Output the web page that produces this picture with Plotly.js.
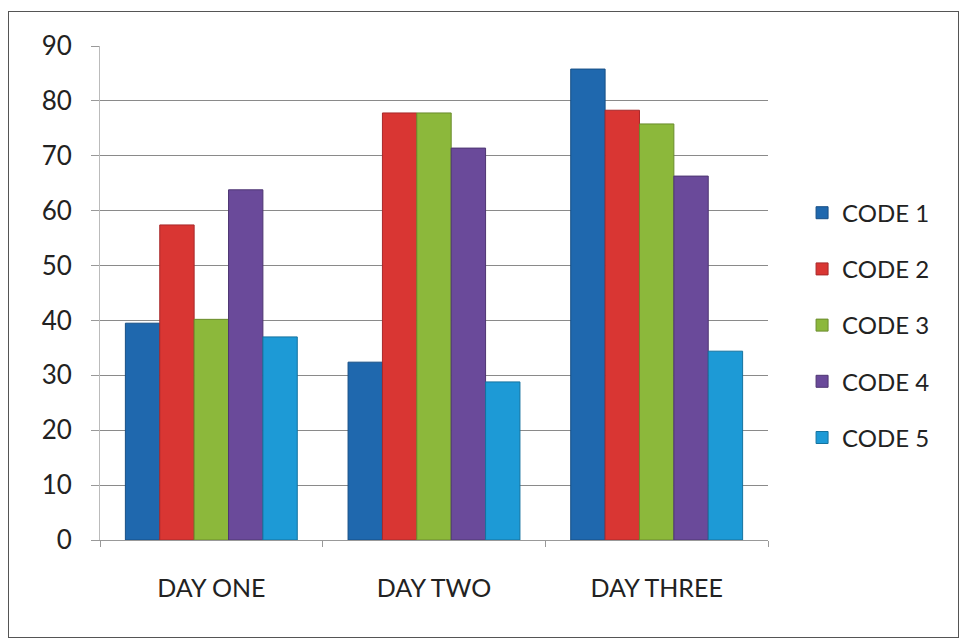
<!DOCTYPE html>
<html>
<head>
<meta charset="utf-8">
<script src="https://cdn.plot.ly/plotly-3.0.1.min.js"></script>
<style>
  html, body { margin: 0; padding: 0; background: #ffffff; }
  #wrap { position: relative; width: 964px; height: 641px; overflow: hidden; }
  #chart { position: absolute; left: 0; top: 0; width: 964px; height: 641px; }
  #frame { position: absolute; left: 8px; top: 11px; width: 949px; height: 625px;
           border: 1.5px solid #555; pointer-events: none; }
</style>
</head>
<body>
<div id="wrap">
  <div id="chart"></div>
  <div id="frame"></div>
</div>
<script>
const categories = ["DAY ONE", "DAY TWO", "DAY THREE"];
const seriesNames = ["CODE 1", "CODE 2", "CODE 3", "CODE 4", "CODE 5"];
const code1 = [39.5, 32.4, 85.8];
const code2 = [57.4, 77.8, 78.3];
const code3 = [40.2, 77.8, 75.8];
const code4 = [63.8, 71.4, 66.3];
const code5 = [37.0, 28.8, 34.4];
const yTicks = [0, 10, 20, 30, 40, 50, 60, 70, 80, 90];

const seriesValues = [code1, code2, code3, code4, code5];
const colors = ["#1F68AE", "#D93633", "#8CB83B", "#6A4A9A", "#1D9AD6"];
const edges = ["#174F86", "#A8282A", "#6A8C2C", "#4E3672", "#15739F"];

const traces = seriesNames.map((name, i) => ({
  type: "bar",
  name: name,
  x: categories,
  y: seriesValues[i],
  legendgroup: "g" + i,
  marker: { color: colors[i], line: { color: edges[i], width: 1 } },
  hoverinfo: "x+y+name"
}));

const layout = {
  width: 964,
  height: 641,
  margin: { l: 100, r: 196, t: 46, b: 101 },
  paper_bgcolor: "#ffffff",
  plot_bgcolor: "#ffffff",
  barmode: "group",
  bargap: 0.228,
  bargroupgap: 0,
  font: { family: "Lato, 'Open Sans', sans-serif", color: "#222" },
  xaxis: {
    type: "category",
    showline: true,
    linecolor: "#999",
    linewidth: 1,
    ticks: "outside",
    tickson: "boundaries",
    ticklen: 6,
    tickcolor: "#999",
    showgrid: false,
    tickfont: { size: 25, color: "#222" },
    ticklabelstandoff: 26
  },
  yaxis: {
    range: [0, 90],
    tickvals: yTicks,
    ticktext: yTicks.map(String),
    showline: true,
    linecolor: "#bbb",
    linewidth: 1,
    ticks: "outside",
    ticklen: 8,
    tickcolor: "#999",
    showgrid: true,
    gridcolor: "#8a8a8a",
    gridwidth: 1,
    zeroline: false,
    tickfont: { size: 26, color: "#222" },
    ticklabelstandoff: 14
  },
  legend: {
    x: 1.051,
    xanchor: "left",
    y: 0.435,
    yanchor: "middle",
    traceorder: "grouped",
    tracegroupgap: 22,
    font: { size: 24, color: "#222" },
    bgcolor: "rgba(0,0,0,0)"
  },
  showlegend: true
};

Plotly.newPlot("chart", traces, layout, { displayModeBar: false, staticPlot: true });
</script>
</body>
</html>
